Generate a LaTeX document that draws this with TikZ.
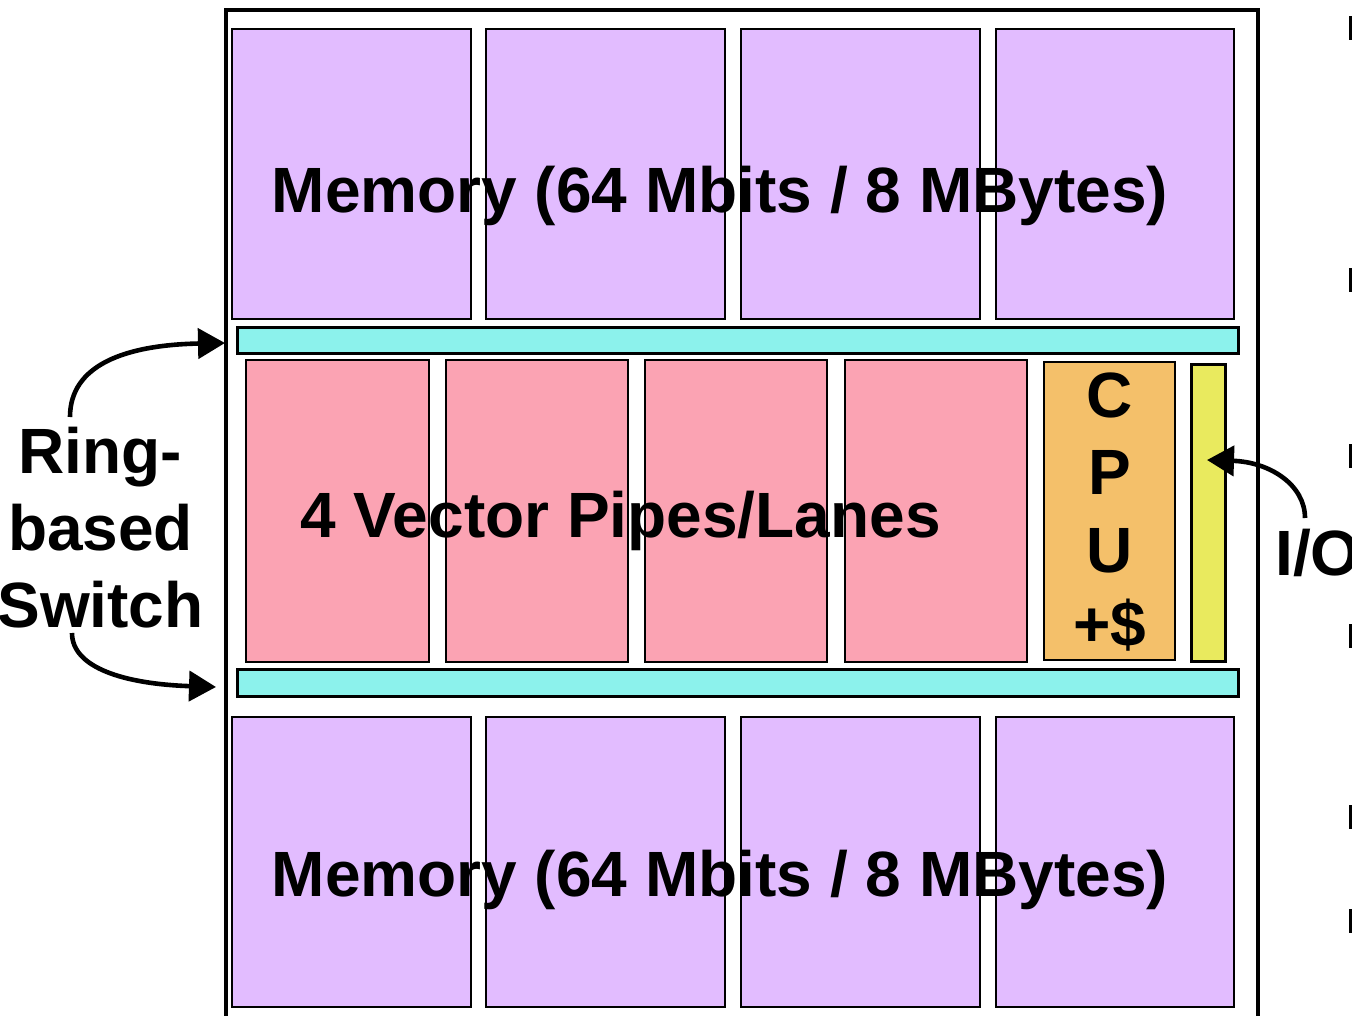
\documentclass[tikz,border=0pt]{standalone}
\usepackage{fontspec}
\setmainfont{Liberation Sans}
\usetikzlibrary{arrows.meta}
\definecolor{memc}{RGB}{226,188,255}
\definecolor{ringc}{RGB}{140,242,236}
\definecolor{pipec}{RGB}{251,163,179}
\definecolor{cpuc}{RGB}{244,192,106}
\definecolor{ioc}{RGB}{233,234,94}
\tikzset{
  blk/.style={draw=black, line width=2.8pt},
  membox/.style={blk, fill=memc},
  ringbox/.style={blk, fill=ringc},
  pipebox/.style={blk, fill=pipec},
  cpubox/.style={blk, fill=cpuc},
  iobox/.style={blk, fill=ioc},
  bigtxt/.style={font=\fontsize{64}{77}\selectfont\bfseries, inner sep=0pt},
  callout/.style={line width=4.6pt, -{Triangle[length=27pt,width=30pt]}},
}
\begin{document}
\begin{tikzpicture}[x=1pt,y=-1pt]
\useasboundingbox (0,0) rectangle (1352,1016);
\begin{scope}
\clip (0,0) rectangle (1352,1016);
% outer chip border
\draw[line width=4.4pt] (226,1030) -- (226,10) -- (1258,10) -- (1258,1030);
% memory top
\draw[membox] (232,29) rectangle (471,319);
\draw[membox] (486,29) rectangle (725,319);
\draw[membox] (741,29) rectangle (980,319);
\draw[membox] (996,29) rectangle (1234,319);
% memory bottom
\draw[membox] (232,717) rectangle (471,1007);
\draw[membox] (486,717) rectangle (725,1007);
\draw[membox] (741,717) rectangle (980,1007);
\draw[membox] (996,717) rectangle (1234,1007);
% ring bars
\node[ringbox, minimum width=1001pt, minimum height=26pt, inner sep=0pt, anchor=north west] (ringtop) at (236,326) {};
\node[ringbox, minimum width=1001pt, minimum height=27pt, inner sep=0pt, anchor=north west] (ringbot) at (236,668) {};
% pipes
\draw[pipebox] (246,360) rectangle (429,662);
\draw[pipebox] (446,360) rectangle (628,662);
\draw[pipebox] (645,360) rectangle (827,662);
\draw[pipebox] (845,360) rectangle (1027,662);
% cpu
\draw[cpubox] (1044,362) rectangle (1175,660);
% io
\node[iobox, minimum width=34pt, minimum height=297pt, inner sep=0pt, anchor=north west] (iobar) at (1190,363) {};
% texts
\node[bigtxt, anchor=base] (memtop) at (720,213) {Memory (64 Mbits / 8 MBytes)};
\node[bigtxt, anchor=base] (membot) at (720,896) {Memory (64 Mbits / 8 MBytes)};
\node[bigtxt, anchor=base] (pipes) at (620.5,537) {4 Vector Pipes/Lanes};
\node[bigtxt, anchor=base] (cpuC) at (1110,417) {C};
\node[bigtxt, anchor=base] (cpuP) at (1110,494) {P};
\node[bigtxt, anchor=base] (cpuU) at (1110,572) {U};
\node[bigtxt, anchor=base] (cpuD) at (1110,646) {+\$};
\node[bigtxt, anchor=base] (ring1) at (100.5,473) {Ring-};
\node[bigtxt, anchor=base] (ring2) at (100.5,550) {based};
\node[bigtxt, anchor=base] (ring3) at (100.5,627) {Switch};
\node[bigtxt, anchor=base west] (io) at (1275,575) {I/O};
% callouts
\coordinate (rs1) at (70,417);
\coordinate (rt1) at (225,343);
\coordinate (rs2) at (72,633);
\coordinate (rt2) at (216,687);
\coordinate (ios) at (1305,518);
\coordinate (iot) at (1207,460);
\draw[callout] (rs1) .. controls (70,365) and (125,345) .. (rt1);
\draw[callout] (rs2) .. controls (72,668) and (125,684) .. (rt2);
\draw[callout] (ios) .. controls (1305,485) and (1270,462) .. (iot);
% cropped marks at right edge
\foreach \yy in {16,268,444,624,805,909}
  \fill (1349,\yy) rectangle (1352,\yy+24);
\end{scope}
\end{tikzpicture}
\end{document}
